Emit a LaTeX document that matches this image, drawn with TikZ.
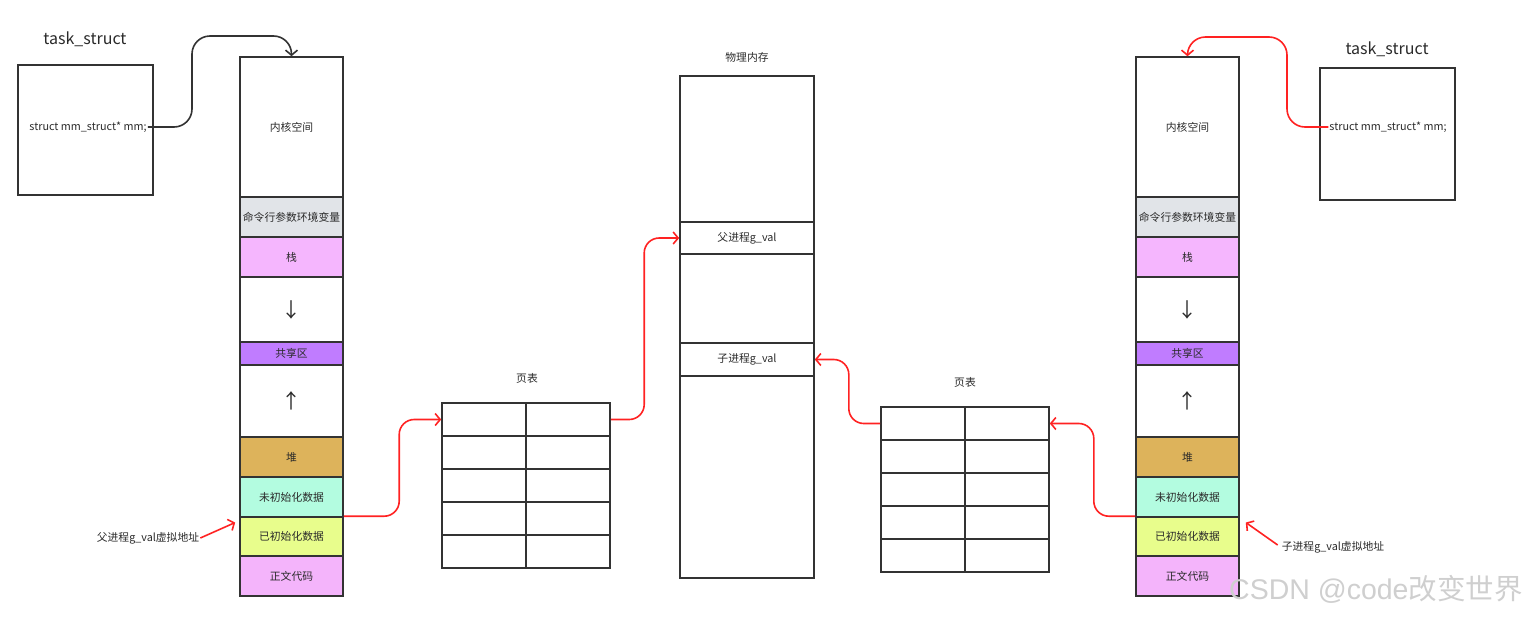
\documentclass[tikz,border=0pt]{standalone}
\usepackage{fontspec}
\newfontfamily\cjk{Noto Sans CJK SC}
\newfontfamily\wmf{Liberation Sans}
\usetikzlibrary{arrows.meta,calc}
\definecolor{txt}{HTML}{2A2A2A}
\definecolor{ln}{HTML}{333333}
\definecolor{rd}{HTML}{FF2222}
\definecolor{cgray}{HTML}{E1E4E8}
\definecolor{cstack}{HTML}{F5B6FE}
\definecolor{cshare}{HTML}{C07CFF}
\definecolor{cheap}{HTML}{DDB35B}
\definecolor{cbss}{HTML}{B3FCE0}
\definecolor{cdata}{HTML}{E8FD8C}
\definecolor{ctext}{HTML}{F4B4FB}
\definecolor{wm}{HTML}{CFCFCF}
\begin{document}
\begin{tikzpicture}[x=1pt,y=-1pt,
  seg/.style={draw=ln, line width=1.6pt, minimum width=103pt, inner sep=0pt, font=\cjk\fontsize{10.8}{12}\selectfont, text=txt},
  arr/.style={seg, font=\cjk\fontsize{20}{22}\selectfont},
  pm/.style={draw=ln, line width=1.6pt, minimum width=134pt, inner sep=0pt, font=\cjk\fontsize{10.8}{12}\selectfont, text=txt},
  cell/.style={draw=ln, line width=1.6pt, minimum width=84pt, minimum height=33pt, inner sep=0pt},
  tbox/.style={draw=ln, line width=1.6pt, minimum width=135pt, inner sep=0pt},
  lbl/.style={font=\cjk\fontsize{10.8}{12}\selectfont, text=txt, inner sep=1pt},
  title/.style={font=\cjk\fontsize{16}{18}\selectfont, text=txt, inner sep=0pt},
  redarrow/.style={draw=rd, line width=1.6pt, -{Straight Barb[length=5pt,width=12pt]}},
  blkarrow/.style={draw=ln, line width=1.6pt, -{Straight Barb[length=5pt,width=12pt]}}
]
\useasboundingbox (0,0) rectangle (1526,616);

% ---------- left task_struct ----------
\node[title] (tlT) at (85,39) {task\_struct};
\node[tbox, minimum height=130pt] (TL) at (85.5,130) {};
\node[lbl] (tlt) at (88,127) {struct mm\_struct* mm;};

% ---------- left virtual address space ----------
\node[seg, minimum height=140pt] (L1) at (291.5,127) {内核空间};
\node[seg, minimum height=40pt, fill=cgray] (L2) at (291.5,217) {命令行参数环境变量};
\node[seg, minimum height=40pt, fill=cstack] (L3) at (291.5,257) {栈};
\node[arr, minimum height=65pt] (L4) at (291.5,309.5) {↓};
\node[seg, minimum height=23pt, fill=cshare] (L5) at (291.5,353.5) {共享区};
\node[arr, minimum height=72pt] (L6) at (291.5,401) {↑};
\node[seg, minimum height=40pt, fill=cheap] (L7) at (291.5,457) {堆};
\node[seg, minimum height=40pt, fill=cbss] (L8) at (291.5,497) {未初始化数据};
\node[seg, minimum height=39pt, fill=cdata] (L9) at (291.5,536.5) {已初始化数据};
\node[seg, minimum height=40pt, fill=ctext] (L10) at (291.5,576) {正文代码};

% ---------- right virtual address space ----------
\node[seg, minimum height=140pt] (R1) at (1187.5,127) {内核空间};
\node[seg, minimum height=40pt, fill=cgray] (R2) at (1187.5,217) {命令行参数环境变量};
\node[seg, minimum height=40pt, fill=cstack] (R3) at (1187.5,257) {栈};
\node[arr, minimum height=65pt] (R4) at (1187.5,309.5) {↓};
\node[seg, minimum height=23pt, fill=cshare] (R5) at (1187.5,353.5) {共享区};
\node[arr, minimum height=72pt] (R6) at (1187.5,401) {↑};
\node[seg, minimum height=40pt, fill=cheap] (R7) at (1187.5,457) {堆};
\node[seg, minimum height=40pt, fill=cbss] (R8) at (1187.5,497) {未初始化数据};
\node[seg, minimum height=39pt, fill=cdata] (R9) at (1187.5,536.5) {已初始化数据};
\node[seg, minimum height=40pt, fill=ctext] (R10) at (1187.5,576) {正文代码};

% ---------- right task_struct ----------
\node[title] (trT) at (1387,49) {task\_struct};
\node[tbox, minimum height=132pt] (TR) at (1387.5,134) {};
\node[lbl] (trt) at (1388,127) {struct mm\_struct* mm;};

% ---------- page tables ----------
\node[lbl] (ltT) at (527,378) {页表};
\foreach \r in {1,...,5}{
  \foreach \c in {1,2}{
    \node[cell] (lt-\r-\c) at ({484+84*(\c-1)},{419.5+33*(\r-1)}) {};
  }
}
\node[lbl] (rtT) at (965,382) {页表};
\foreach \r in {1,...,5}{
  \foreach \c in {1,2}{
    \node[cell] (rt-\r-\c) at ({923+84*(\c-1)},{423.5+33*(\r-1)}) {};
  }
}

% ---------- physical memory ----------
\node[lbl] (pmT) at (747,57) {物理内存};
\node[pm, minimum height=146pt] (P1) at (747,149) {};
\node[pm, minimum height=32pt] (P2) at (747,238) {父进程g\_val};
\node[pm, minimum height=89pt] (P3) at (747,298.5) {};
\node[pm, minimum height=33pt] (P4) at (747,359.5) {子进程g\_val};
\node[pm, minimum height=202pt] (P5) at (747,477) {};

% ---------- labels ----------
\node[lbl] (lab1) at (148,538) {父进程g\_val虚拟地址};
\node[lbl] (lab2) at (1333,547) {子进程g\_val虚拟地址};

% ---------- connectors ----------
\coordinate (lc) at (192,36);
\coordinate (rc) at (1287,37);
\draw[blkarrow, rounded corners=18pt] (tlt.east) -| (lc) -| (L1.north);
\draw[redarrow, rounded corners=18pt] (trt.west) -| (rc) -| (R1.north);

\draw[redarrow, rounded corners=15pt] (L9.north east) -| ([xshift=-42pt]lt-1-1.west) -- (lt-1-1.west);
\draw[redarrow, rounded corners=15pt] (lt-1-2.east) -| ([xshift=-35pt]P2.west) -- (P2.west);
\draw[redarrow, rounded corners=15pt] (R9.north west) -| ([xshift=44pt]rt-1-2.east) -- (rt-1-2.east);
\draw[redarrow, rounded corners=15pt] (rt-1-1.west) -| ([xshift=34pt]P4.east) -- (P4.east);

\draw[redarrow] (lab1.east) -- ([xshift=-4pt,yshift=14pt]L9.west);
\draw[redarrow] ([xshift=-3pt,yshift=2pt]lab2.west) -- ([xshift=6pt,yshift=14pt]R9.east);

% ---------- watermark ----------
\node[text=wm, inner sep=0pt, anchor=west] (wmk) at (1229,589) {\wmf\fontsize{28.5}{30}\selectfont CSDN @code\cjk 改变世界};
\end{tikzpicture}
\end{document}
